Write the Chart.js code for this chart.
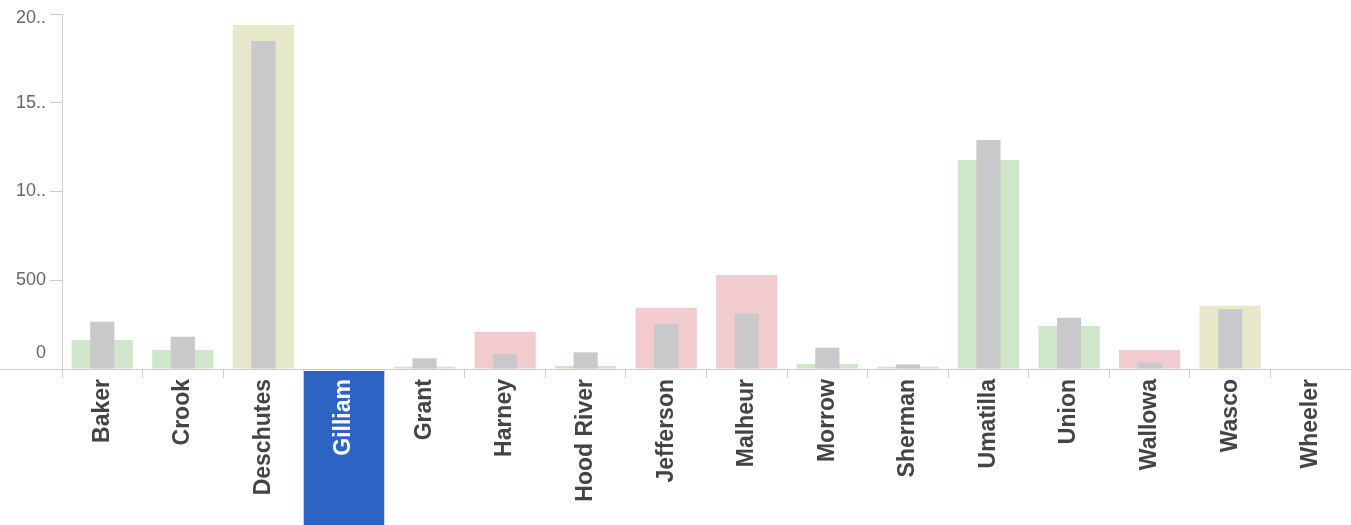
<!DOCTYPE html>
<html>
<head>
<meta charset="utf-8">
<script src="https://cdn.jsdelivr.net/npm/chart.js@4"></script>
<style>
  html, body { margin: 0; padding: 0; background: #fff; }
  .chart-outer { width: 1351px; height: 525px; position: relative; }
</style>
</head>
<body>
<div class="chart-outer">
  <canvas id="chart"></canvas>
</div>
<script>
// county data
const counties = ['Baker', 'Crook', 'Deschutes', 'Gilliam', 'Grant', 'Harney', 'Hood River', 'Jefferson',
  'Malheur', 'Morrow', 'Sherman', 'Umatilla', 'Union', 'Wallowa', 'Wasco', 'Wheeler'];
const actual = [163, 107, 1938, 0, 13, 210, 17, 345, 530, 28, 13, 1177, 242, 107, 357, 0];
const reference = [266, 182, 1848, 0, 60, 85, 94, 253, 310, 120, 26, 1290, 289, 36, 336, 0];
const status = ['good', 'good', 'near', 'none', 'good', 'bad', 'good', 'bad',
  'bad', 'good', 'good', 'good', 'good', 'bad', 'near', 'none'];
const yTicks = [0, 500, 1000, 1500, 2000];
const yTickLabels = ['0', '500', '10..', '15..', '20..'];
const selected = 'Gilliam';

const palette = { good: '#cfe6cb', near: '#e7e8c9', bad: '#f1cbcd', none: '#ffffff' };
const FONT = "Arial, 'Liberation Sans', sans-serif";

const extras = {
  id: 'extras',
  beforeDraw(chart) {
    const { ctx, chartArea, scales: { x } } = chart;
    const idx = counties.indexOf(selected);
    const w = x.getPixelForValue(1) - x.getPixelForValue(0);
    const cx = x.getPixelForValue(idx);
    ctx.save();
    ctx.fillStyle = '#2d64c4';
    ctx.fillRect(cx - w / 2, chartArea.bottom + 2, w, chart.height - chartArea.bottom - 2);
    // axis line runs out to the left edge
    ctx.strokeStyle = '#cccccc';
    ctx.lineWidth = 1;
    ctx.beginPath();
    ctx.moveTo(0, chartArea.bottom + 0.5);
    ctx.lineTo(chartArea.left, chartArea.bottom + 0.5);
    ctx.stroke();
    ctx.restore();
  },
  afterDraw(chart) {
    const { ctx, scales: { y } } = chart;
    ctx.save();
    ctx.font = '18px ' + FONT;
    ctx.fillStyle = '#666';
    ctx.textAlign = 'right';
    ctx.textBaseline = 'middle';
    const right = y.right - 16;
    ctx.fillText(yTickLabels[0], right, y.getPixelForValue(yTicks[0]) - 16);
    const last = yTicks.length - 1;
    ctx.fillText(yTickLabels[last], right, y.getPixelForValue(yTicks[last]) + 4);
    ctx.restore();
  }
};

new Chart(document.getElementById('chart'), {
  type: 'bar',
  data: {
    labels: counties,
    datasets: [
      {
        label: 'Reference',
        data: reference,
        backgroundColor: '#c9c9cb',
        grouped: false,
        order: 0,
        barPercentage: 0.3,
        categoryPercentage: 1
      },
      {
        label: 'Actual',
        data: actual,
        backgroundColor: status.map(s => palette[s]),
        grouped: false,
        order: 1,
        barPercentage: 0.76,
        categoryPercentage: 1
      }
    ]
  },
  options: {
    responsive: true,
    maintainAspectRatio: false,
    animation: false,
    layout: { padding: { top: 14, left: 0, right: 0, bottom: 0 } },
    plugins: {
      legend: { display: false },
      tooltip: { enabled: false }
    },
    scales: {
      x: {
        grid: { offset: true, drawOnChartArea: false, drawTicks: true, tickLength: 9, color: '#cccccc' },
        border: { color: '#cccccc' },
        ticks: {
          autoSkip: false,
          maxRotation: 90,
          minRotation: 90,
          padding: 1,
          font: { family: FONT, size: 23, weight: 'bold' },
          color: ctx => counties[ctx.index] === selected ? '#ffffff' : '#444444'
        },
        afterFit(scale) {
          scale.height = 156;
          scale.paddingLeft = 0;
          scale.paddingRight = 0;
        }
      },
      y: {
        min: 0,
        max: 2000,
        afterBuildTicks(scale) {
          scale.ticks = yTicks.map(v => ({ value: v }));
        },
        grid: { drawOnChartArea: false, drawTicks: true, tickLength: 12, color: '#cccccc' },
        border: { color: '#cccccc' },
        ticks: {
          padding: 4,
          font: { family: FONT, size: 18 },
          color: '#666',
          callback: (value, i) => (i === 0 || i === yTicks.length - 1) ? '' : yTickLabels[i]
        },
        afterFit(scale) {
          scale.width = 62;
          scale.paddingTop = 0;
          scale.paddingBottom = 0;
        }
      }
    }
  },
  plugins: [extras]
});
</script>
</body>
</html>
